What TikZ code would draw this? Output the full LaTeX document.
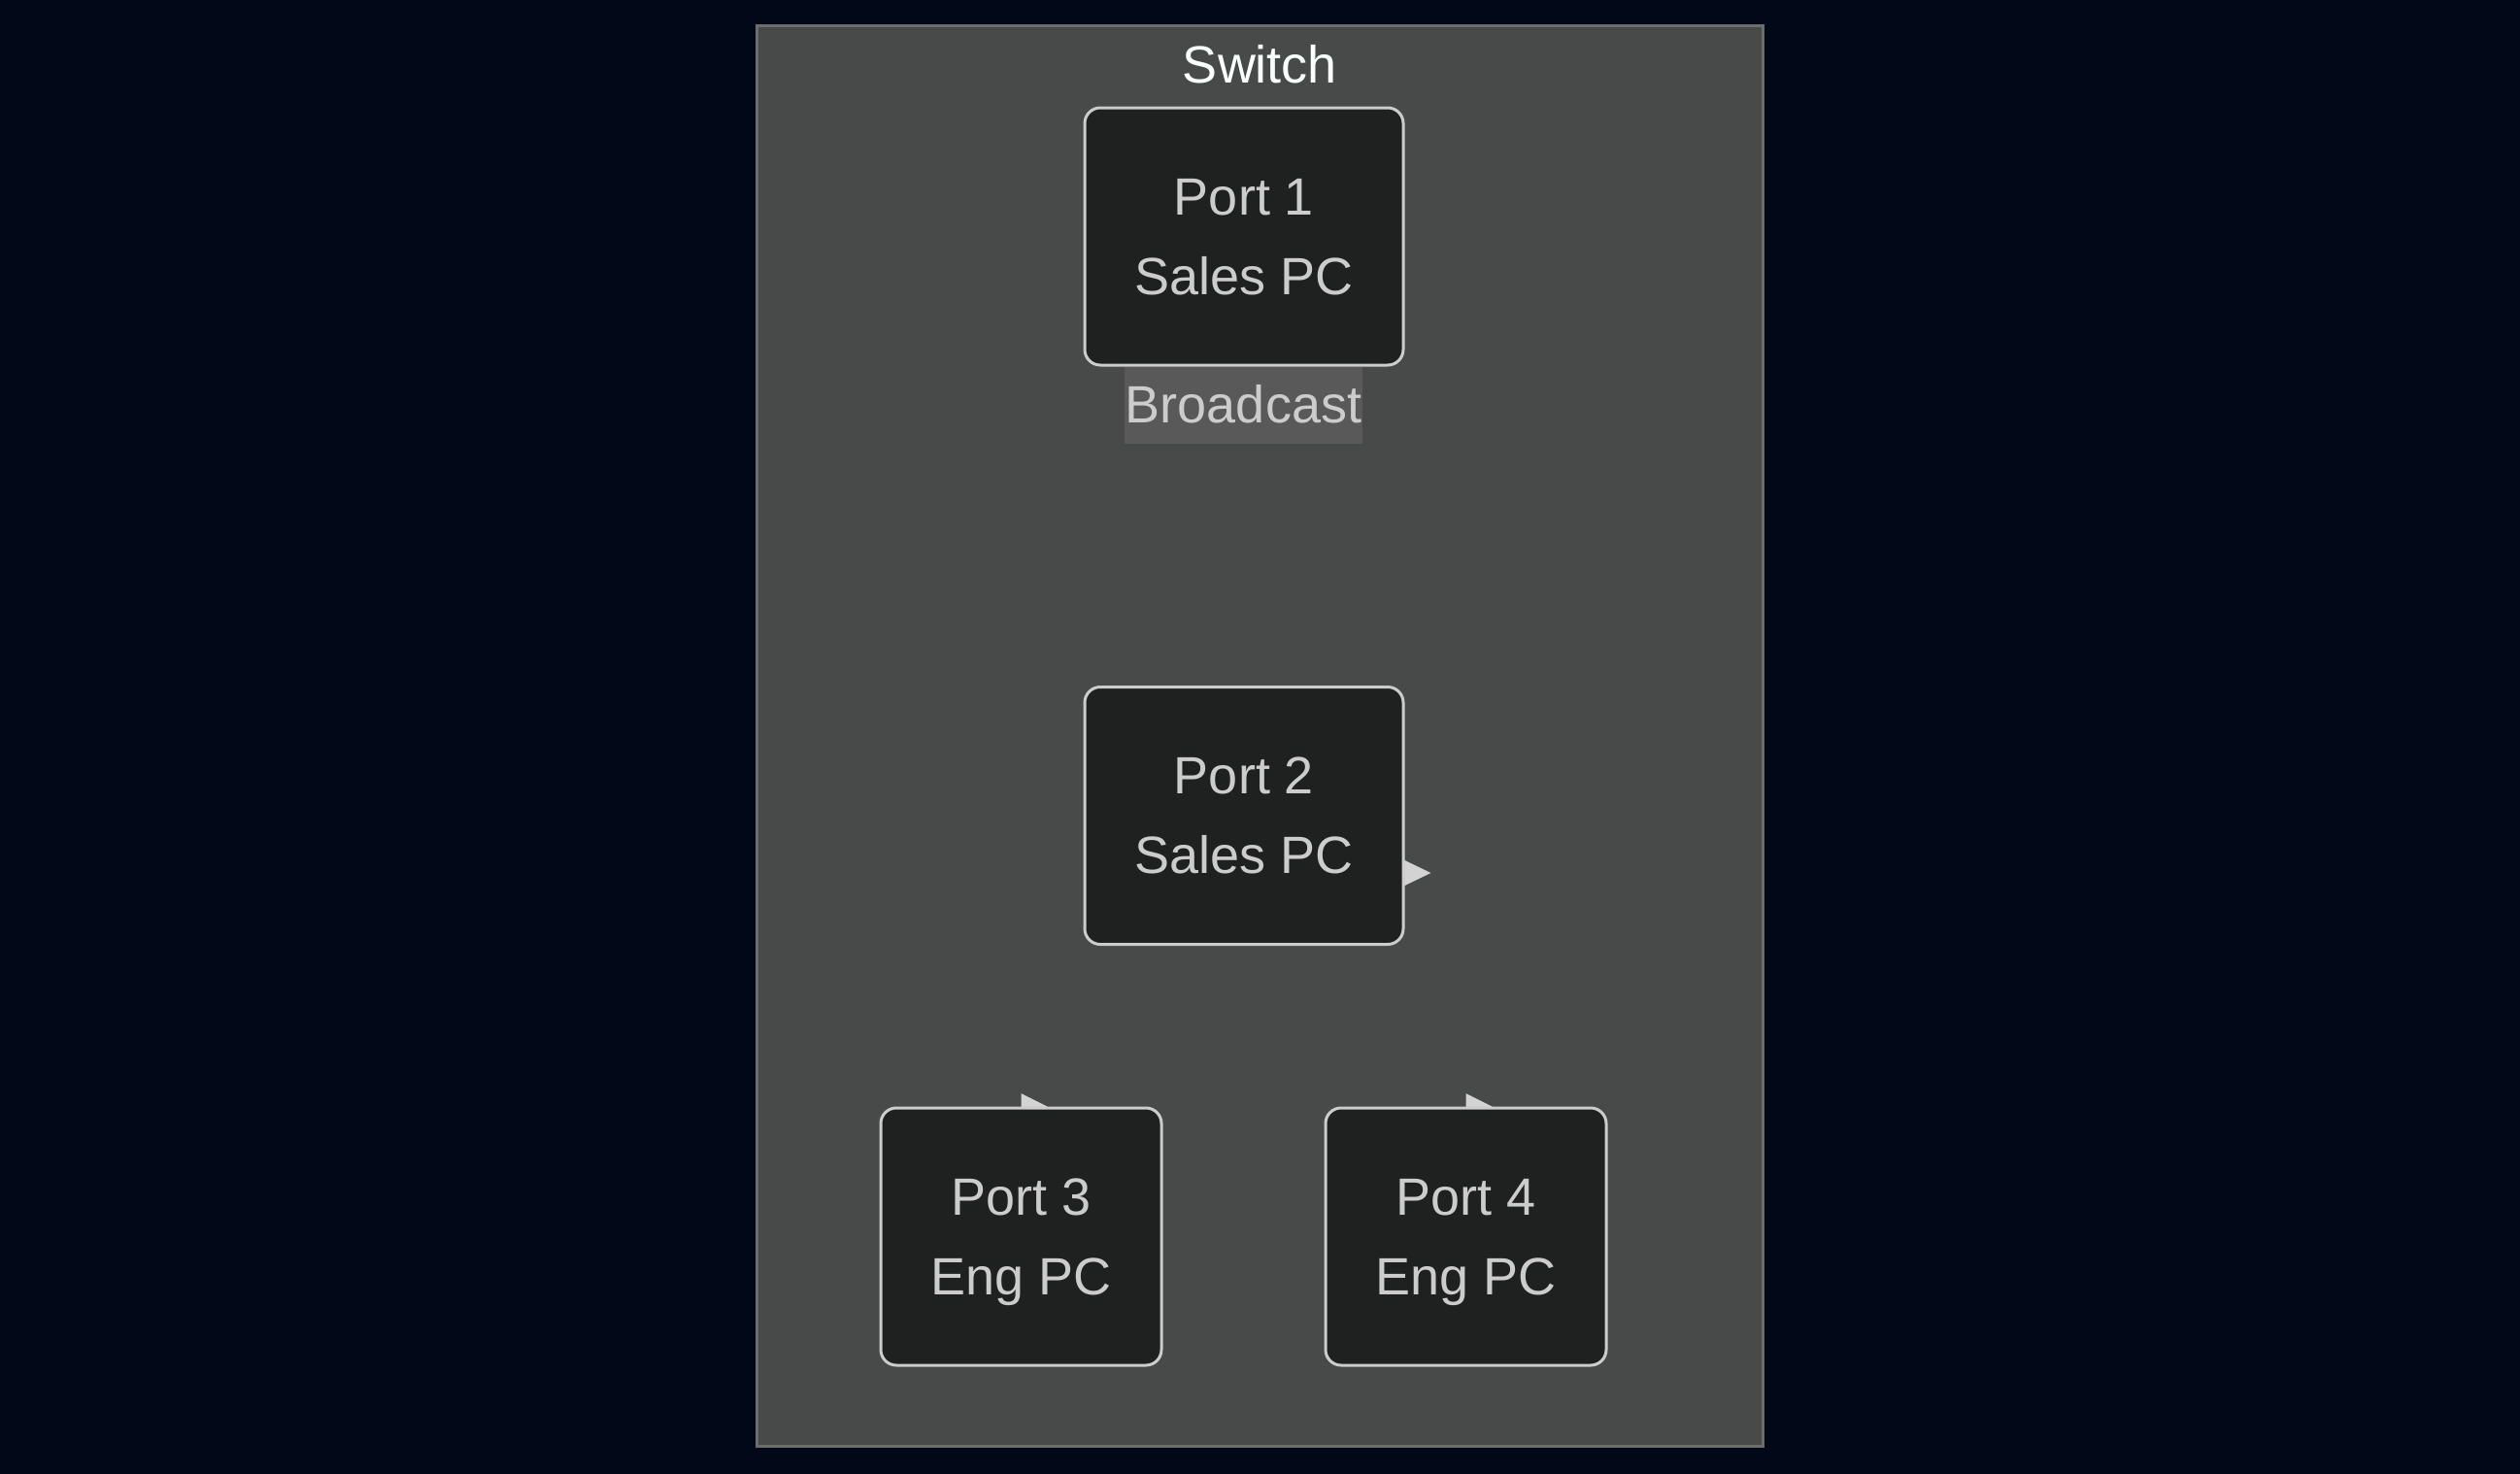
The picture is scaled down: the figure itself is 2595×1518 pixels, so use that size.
\documentclass[tikz,border=0pt]{standalone}
\usepackage{fontspec}
\setmainfont{Liberation Sans}
\usetikzlibrary{calc}
\definecolor{bgc}{HTML}{010817}
\definecolor{clusterfill}{HTML}{484A49}
\definecolor{clusterline}{HTML}{6C6E6E}
\definecolor{nodefill}{HTML}{1F2020}
\definecolor{nodeline}{HTML}{CCCCCC}
\definecolor{nodetext}{HTML}{CCCCCC}
\definecolor{titletext}{HTML}{F9FFFE}
\definecolor{labelbg}{HTML}{595959}
\definecolor{tipc}{HTML}{D3D3D3}
\pgfdeclarelayer{bglayer}
\pgfdeclarelayer{edgelayer}
\pgfsetlayers{bglayer,edgelayer,main}
\begin{document}
\begin{tikzpicture}[x=1pt,y=-1pt,
  port/.style={draw=nodeline, fill=nodefill, line width=3pt, rounded corners=16pt,
    text=nodetext, align=center, inner sep=0pt, text depth=0pt,
    font=\fontsize{54pt}{82pt}\selectfont},
  bigport/.style={port, minimum width=328pt, minimum height=265pt},
  smallport/.style={port, minimum width=289pt, minimum height=265pt},
  titlestyle/.style={text=titletext, inner sep=0pt, font=\fontsize{54pt}{64pt}\selectfont},
  elabel/.style={fill=labelbg, text=nodetext, inner sep=0pt, minimum width=245pt,
    minimum height=79pt, font=\fontsize{54pt}{64pt}\selectfont},
  arrowtip/.style={fill=tipc}]
\begin{pgfonlayer}{bglayer}
  \fill[bgc] (0,0) rectangle (2595,1518);
  \draw[fill=clusterfill, draw=clusterline, line width=3pt] (779.5,26.5) rectangle (1815.5,1489.5);
\end{pgfonlayer}
\useasboundingbox (0,0) rectangle (2595,1518);
\node[titlestyle, anchor=base] (sw) at (1297.5,85) {Switch};
\node[bigport] (p1) at (1281,243.5) {Port 1\\Sales PC};
\node[bigport] (p2) at (1281,840) {Port 2\\Sales PC};
\node[smallport] (p3) at (1051.5,1273.5) {Port 3\\Eng PC};
\node[smallport] (p4) at (1509.5,1273.5) {Port 4\\Eng PC};
\node[elabel, text depth=4pt, text height=39pt] (bl) at (1280.5,417.5) {Broadcast};
\begin{pgfonlayer}{edgelayer}
  \coordinate (t2) at ($(p2.east)+(0,59)$);
  \fill[arrowtip] ($(t2)+(-1,-13.5)$) -- ($(t2)+(27,0)$) -- ($(t2)+(-1,13.5)$) -- cycle;
  \fill[arrowtip] ($(p3.north)+(0,-13.5)$) -- ($(p3.north)+(27,0)$) -- ($(p3.north)+(0,13.5)$) -- cycle;
  \fill[arrowtip] ($(p4.north)+(0,-13.5)$) -- ($(p4.north)+(27,0)$) -- ($(p4.north)+(0,13.5)$) -- cycle;
\end{pgfonlayer}
\end{tikzpicture}
\end{document}
